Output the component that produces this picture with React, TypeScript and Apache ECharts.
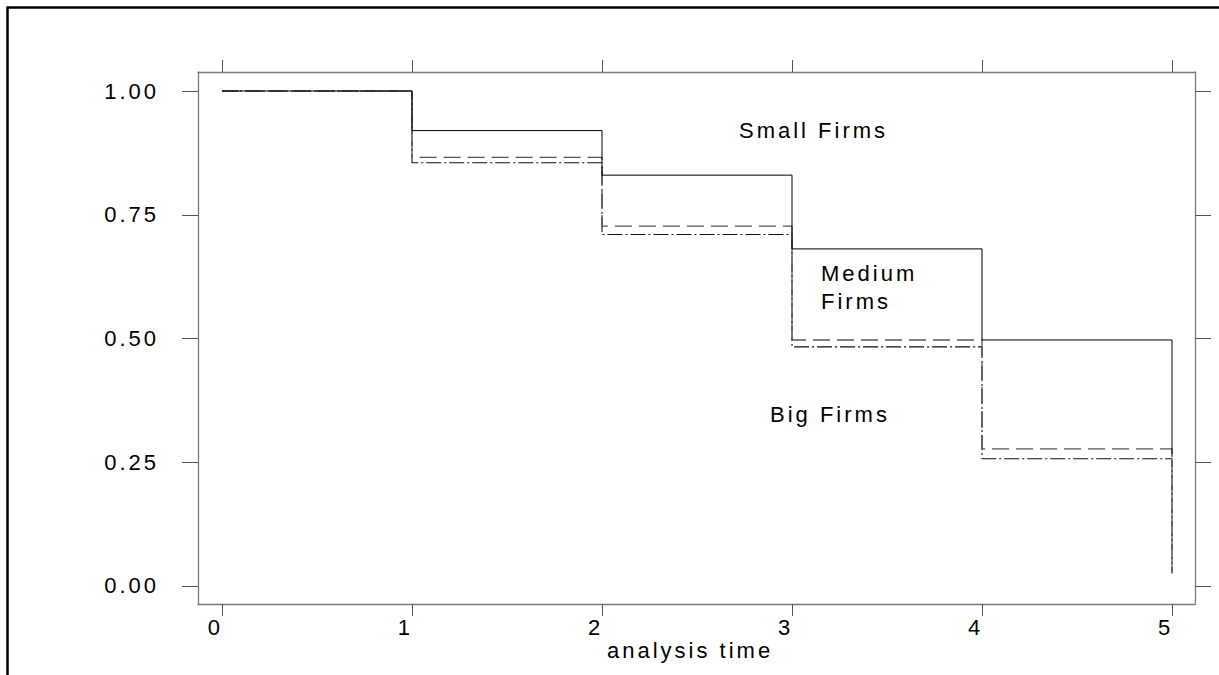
import React, { useEffect, useRef } from "react";
import * as echarts from "echarts";

// Kaplan-Meier survival estimates by firm size
const TIMES = [0, 1, 2, 3, 4, 5];
const SMALL_FIRMS = [1.0, 0.92, 0.83, 0.681, 0.497, 0.26];
const MEDIUM_FIRMS = [1.0, 0.866, 0.727, 0.497, 0.277, 0.03];
const BIG_FIRMS = [1.0, 0.855, 0.71, 0.483, 0.257, 0.025];

const X_TICKS = [0, 1, 2, 3, 4, 5];
const Y_TICKS = [0, 0.25, 0.5, 0.75, 1];

const FONT = '"Liberation Sans", Arial, Helvetica, sans-serif';
const AXIS_GRAY = "#7a7a7a";
const TICK_GRAY = "#555";

const pairs = (ys: number[]) => TIMES.map((t, i) => [t, ys[i]]);

export default function App() {
  const ref = useRef<HTMLDivElement>(null);

  useEffect(() => {
    if (!ref.current) return;
    const chart = echarts.init(ref.current, undefined, { renderer: "svg" });

    const xBase = {
      type: "value" as const,
      min: -0.1263,
      max: 5.121,
      splitLine: { show: false },
      axisLine: { show: true, onZero: false, lineStyle: { color: AXIS_GRAY, width: 1.3 } },
    };
    const yBase = {
      type: "value" as const,
      min: -0.0364,
      max: 1.0384,
      splitLine: { show: false },
      axisLine: { show: true, onZero: false, lineStyle: { color: AXIS_GRAY, width: 1.3 } },
    };

    chart.setOption({
      animation: false,
      backgroundColor: "#fff",
      grid: { left: 198, top: 72, right: 24, bottom: 71, containLabel: false },
      xAxis: [
        {
          ...xBase,
          position: "bottom",
          axisTick: {
            show: true,
            inside: false,
            length: 12,
            customValues: X_TICKS,
            lineStyle: { color: TICK_GRAY, width: 1 },
          },
          axisLabel: {
            show: true,
            customValues: X_TICKS,
            margin: 12,
            align: "center",
            padding: [0, 13, 0, 0],
            fontFamily: FONT,
            fontSize: 22,
            color: "#000",
            formatter: (v: number) => String(Math.round(v)),
          },
        },
        {
          ...xBase,
          position: "top",
          axisTick: {
            show: true,
            inside: false,
            length: 12,
            customValues: X_TICKS,
            lineStyle: { color: TICK_GRAY, width: 1 },
          },
          axisLabel: { show: false, customValues: X_TICKS },
        },
      ],
      yAxis: [
        {
          ...yBase,
          position: "left",
          axisTick: {
            show: true,
            inside: false,
            length: 16,
            customValues: Y_TICKS,
            lineStyle: { color: TICK_GRAY, width: 1 },
          },
          axisLabel: {
            show: true,
            customValues: Y_TICKS,
            margin: 39,
            padding: [5, 0, 0, 0],
            fontFamily: FONT,
            fontSize: 22,
            color: "#000",
            formatter: (v: number) => v.toFixed(2),
          },
        },
        {
          ...yBase,
          position: "right",
          axisTick: {
            show: true,
            inside: false,
            length: 16,
            customValues: Y_TICKS,
            lineStyle: { color: TICK_GRAY, width: 1 },
          },
          axisLabel: { show: false, customValues: Y_TICKS },
        },
      ],
      series: [
        {
          name: "Big Firms",
          type: "line",
          step: "end",
          silent: true,
          showSymbol: false,
          data: pairs(BIG_FIRMS),
          lineStyle: { color: "#111", width: 1.1, type: [15, 3, 2, 3] },
          z: 2,
        },
        {
          name: "Medium Firms",
          type: "line",
          step: "end",
          silent: true,
          showSymbol: false,
          data: pairs(MEDIUM_FIRMS),
          lineStyle: { color: "#555", width: 1.3, type: [17, 7] },
          z: 3,
        },
        {
          name: "Small Firms",
          type: "line",
          step: "end",
          silent: true,
          showSymbol: false,
          data: pairs(SMALL_FIRMS),
          lineStyle: { color: "#000", width: 1, type: "solid" },
          z: 4,
        },
      ],
      graphic: [
        {
          type: "rect",
          silent: true,
          shape: { x: 7.5, y: 7.5, width: 1300, height: 800 },
          style: { fill: "none", stroke: "#000", lineWidth: 2.5 },
        },
        {
          type: "text",
          silent: true,
          x: 739,
          y: 130,
          style: { text: "Small Firms", font: `22px ${FONT}`, fill: "#000", align: "left", verticalAlign: "middle" },
        },
        {
          type: "text",
          silent: true,
          x: 821,
          y: 287.5,
          style: {
            text: "Medium\nFirms",
            font: `22px ${FONT}`,
            lineHeight: 28,
            fill: "#000",
            align: "left",
            verticalAlign: "middle",
          },
        },
        {
          type: "text",
          silent: true,
          x: 770,
          y: 414.5,
          style: { text: "Big Firms", font: `22px ${FONT}`, fill: "#000", align: "left", verticalAlign: "middle" },
        },
        {
          type: "text",
          silent: true,
          x: 607,
          y: 650,
          style: { text: "analysis time", font: `22px ${FONT}`, fill: "#000", align: "left", verticalAlign: "middle" },
        },
      ],
    });

    return () => chart.dispose();
  }, []);

  return (
    <>
      <style>{`.km-chart text { letter-spacing: 3px; }`}</style>
      <div
        ref={ref}
        className="km-chart"
        style={{ position: "fixed", left: 0, top: 0, width: 1219, height: 675, background: "#fff" }}
      />
    </>
  );
}
